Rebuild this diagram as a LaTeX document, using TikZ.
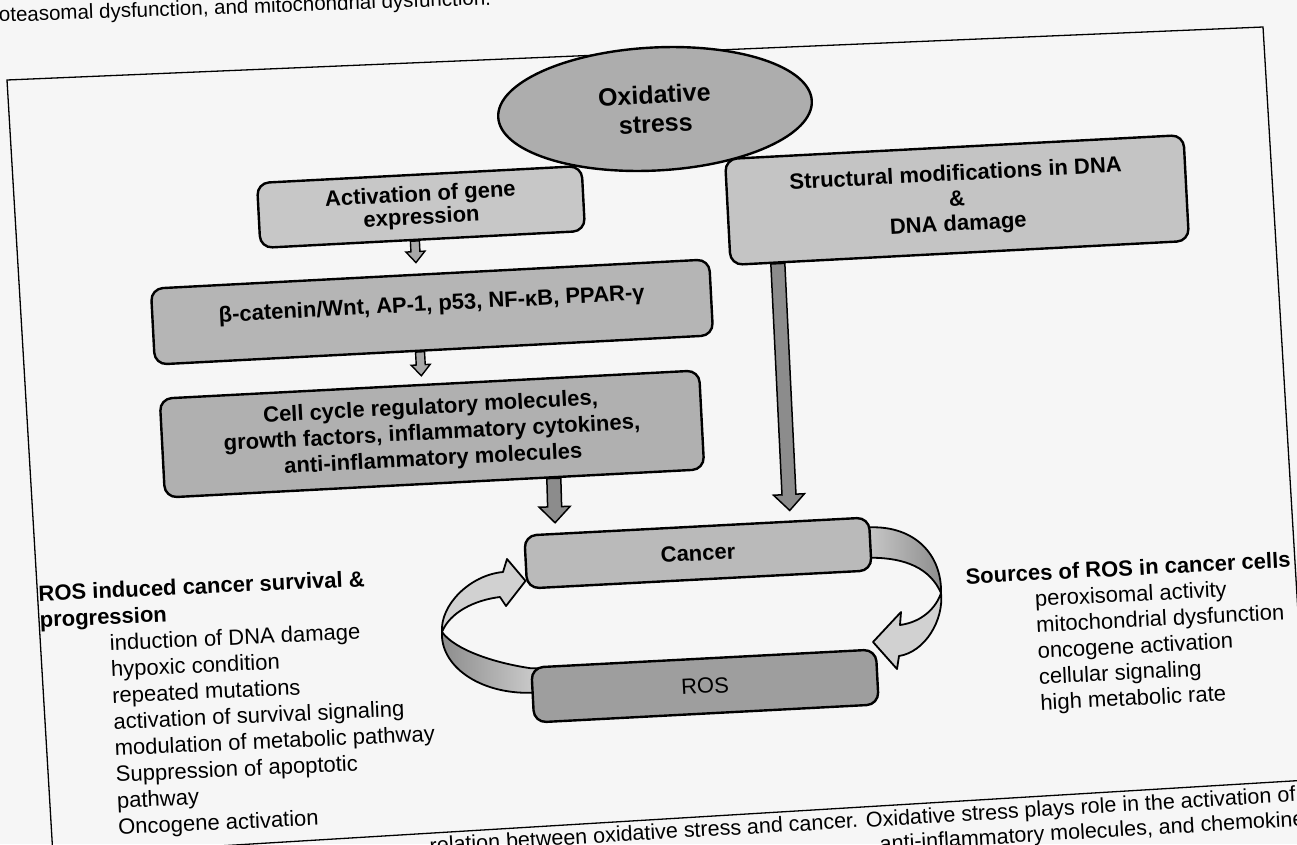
\documentclass[tikz,border=0pt]{standalone}
\usepackage{fontspec}
\setmainfont{Liberation Sans}
\usetikzlibrary{calc,shapes.geometric}
\pgfdeclarelayer{paperlayer}
\pgfdeclarelayer{back}
\pgfsetlayers{paperlayer,back,main}

\definecolor{paper}{gray}{0.965}
\definecolor{ovalgray}{gray}{0.68}
\definecolor{actgray}{gray}{0.78}
\definecolor{dnagray}{gray}{0.77}
\definecolor{betagray}{gray}{0.71}
\definecolor{cellgray}{gray}{0.69}
\definecolor{cancergray}{gray}{0.73}
\definecolor{rosgray}{gray}{0.62}
\definecolor{shaftgray}{gray}{0.55}
\definecolor{thingray}{gray}{0.66}
\definecolor{bandlight}{gray}{0.82}
\definecolor{banddark}{gray}{0.55}

% block arrow from #2 to #3: style #1, shaft half width #4, head half width #5, head length #6
\newcommand\blkarrow[6]{%
  \coordinate (tmpH) at ($(#3)!#6!(#2)$);
  \draw[#1] ($(#2)!#4!90:(#3)$) -- ($(tmpH)!#4!90:(#3)$) -- ($(tmpH)!#5!90:(#3)$)
    -- (#3) -- ($(tmpH)!#5!-90:(#3)$) -- ($(tmpH)!#4!-90:(#3)$)
    -- ($(#2)!#4!-90:(#3)$) -- cycle;
}

\tikzset{
  stagebox/.style={draw=black, line width=2.4pt, rounded corners=12pt, rotate=3,
    inner sep=0pt, align=center, font=\fontsize{22}{26}\selectfont\bfseries},
  oval/.style={ellipse, draw=black, line width=2.4pt, fill=ovalgray, rotate=3,
    inner sep=0pt, align=center, font=\fontsize{25}{29}\selectfont\bfseries,
    minimum width=314pt, minimum height=123pt},
  bigarrow/.style={draw=black, line width=1.5pt, fill=shaftgray, line join=miter},
  smallarrow/.style={draw=black, line width=1.4pt, fill=thingray, line join=miter},
  band/.style={draw=black, line width=1.8pt, line join=round},
  frameline/.style={draw=black, line width=1.3pt},
  listtext/.style={inner sep=0pt, align=left, font=\fontsize{22}{26.3}\selectfont},
  pagetext/.style={inner sep=0pt, font=\fontsize{21.5}{25}\selectfont},
}

\begin{document}
\begin{tikzpicture}[x=1pt,y=-1pt]
\useasboundingbox (0,0) rectangle (1297,844);
\begin{pgfonlayer}{paperlayer}
  \fill[paper] (0,0) rectangle (1297,844);
\end{pgfonlayer}

% running text of the page around the figure
\node[inner sep=0pt, anchor=base west, rotate=2, font=\fontsize{20.5}{24}\selectfont] (topline)
  at (-1,22) {oteasomal dysfunction, and mitochondrial dysfunction.};
\node[pagetext, anchor=base west, rotate=3.4] (cap1) at (430,853)
  {relation between oxidative stress and cancer. Oxidative stress plays role in the activation of gene};
\node[pagetext, anchor=base west, rotate=3.4] (cap2) at (880,851)
  {anti-inflammatory molecules, and chemokines};

% figure frame
\draw[frameline] (7,80) -- (1263,27) -- (1308,780) -- (53,856) -- cycle;

% main nodes
\node[oval] (ox) at (655,109) {Oxidative\\stress};
\node[stagebox, fill=actgray, minimum width=325pt, minimum height=65pt,
  font=\fontsize{22}{23}\selectfont\bfseries] (act) at (421,207) {Activation of gene\\expression};
\node[stagebox, fill=dnagray, minimum width=459pt, minimum height=106pt,
  font=\fontsize{22}{25}\selectfont\bfseries] (dna) at (957,200)
  {Structural modifications in DNA\\\&\\DNA damage};
\node[stagebox, fill=betagray, minimum width=559pt, minimum height=76pt, align=none, text depth=18pt] (beta)
  at (432,312) {β-catenin/Wnt, AP-1, p53, NF-κB, PPAR-γ};
\node[stagebox, fill=cellgray, minimum width=540pt, minimum height=99pt] (cell) at (432,434)
  {Cell cycle regulatory molecules,\\growth factors, inflammatory cytokines,\\anti-inflammatory molecules};
\node[stagebox, fill=cancergray, minimum width=345pt, minimum height=53pt] (cancer) at (698,553) {Cancer};
\node[stagebox, fill=rosgray, minimum width=345pt, minimum height=55pt,
  font=\fontsize{22}{25}\selectfont] (ros) at (705,686) {ROS};

% side lists
\node[listtext, anchor=north west, rotate=2.6] (survival) at (38,585)
  {\textbf{ROS induced cancer survival \&}\\
   \textbf{progression}\\
   \hspace*{69pt}induction of DNA damage\\
   \hspace*{69pt}hypoxic condition\\
   \hspace*{69pt}repeated mutations\\
   \hspace*{69pt}activation of survival signaling\\
   \hspace*{69pt}modulation of metabolic pathway\\
   \hspace*{69pt}Suppression of apoptotic\\
   \hspace*{69pt}pathway\\
   \hspace*{69pt}Oncogene activation};
\node[listtext, anchor=north west, rotate=3, font=\fontsize{22}{26}\selectfont] (sources) at (965,568)
  {\textbf{Sources of ROS in cancer cells}\\
   \hspace*{68pt}peroxisomal activity\\
   \hspace*{68pt}mitochondrial dysfunction\\
   \hspace*{68pt}oncogene activation\\
   \hspace*{68pt}cellular signaling\\
   \hspace*{68pt}high metabolic rate};

\begin{pgfonlayer}{back}
  % straight block arrows
  \coordinate (a1s) at ($(act.south west)!0.476!(act.south east)$);
  \coordinate (a1t) at ($(beta.north west)!0.476!(beta.north east)$);
  \coordinate (a1e) at ($(a1t)!11pt!(a1s)$);
  \blkarrow{smallarrow}{a1s}{a1e}{4.5pt}{9.5pt}{11pt}

  \coordinate (a2s) at ($(beta.south west)!0.475!(beta.south east)$);
  \coordinate (a2t) at ($(cell.north west)!0.486!(cell.north east)$);
  \coordinate (a2e) at ($(a2t)!8pt!(a2s)$);
  \blkarrow{smallarrow}{a2s}{a2e}{4.5pt}{9.5pt}{11pt}

  \coordinate (a3s) at ($(cell.south west)!0.72!(cell.south east)$);
  \coordinate (a3t) at ($(cancer.north west)!0.093!(cancer.north east)$);
  \coordinate (a3e) at ($(a3t)!10pt!(a3s)$);
  \blkarrow{bigarrow}{a3s}{a3e}{7pt}{15.5pt}{16pt}

  \coordinate (a4s) at ($(dna.south west)!0.105!(dna.south east)$);
  \coordinate (a4t) at ($(cancer.north west)!0.77!(cancer.north east)$);
  \coordinate (a4e) at ($(a4t)!10pt!(a4s)$);
  \blkarrow{bigarrow}{a4s}{a4e}{7pt}{15.5pt}{16pt}

  % curved arrow Cancer -> ROS (right side)
  \coordinate (r1) at ($(cancer.north east)!0.2!(cancer.south east)$);
  \coordinate (r2) at ($(cancer.north east)!0.75!(cancer.south east)$);
  \coordinate (rt) at (941,593);
  \coordinate (rtip) at (873,642);
  \path[band, left color=bandlight, right color=banddark]
    (r1) .. controls (915,526) and (942,555) .. (rt)
    .. controls (930,568) and (905,558) .. (r2) -- ++(-14,0) -- ($(r1)+(-14,0)$) -- cycle;
  \path[band, fill=bandlight]
    (rt) .. controls (944,620) and (925,652) .. (899,656) -- (897,669) -- (rtip)
    -- (901,612) -- (900,625) .. controls (922,622) and (936,608) .. (rt) -- cycle;

  % curved arrow ROS -> Cancer (left side)
  \coordinate (l1) at ($(ros.north west)!0.03!(ros.south west)$);
  \coordinate (l2) at ($(ros.north west)!0.46!(ros.south west)$);
  \coordinate (lt) at (442,632);
  \coordinate (ltip) at ($(cancer.north west)!0.84!(cancer.south west)$);
  \path[band, left color=banddark, right color=bandlight]
    (l1) .. controls (495,663) and (455,650) .. (lt)
    .. controls (440,665) and (478,694) .. (l2) -- ++(14,0) -- ($(l1)+(14,0)$) -- cycle;
  \path[band, fill=bandlight]
    (lt) .. controls (440,605) and (470,575) .. (503,572) -- (507,559) -- (ltip)
    -- (506,606) -- (500,597) .. controls (475,600) and (450,612) .. (lt) -- cycle;
\end{pgfonlayer}
\end{tikzpicture}
\end{document}
